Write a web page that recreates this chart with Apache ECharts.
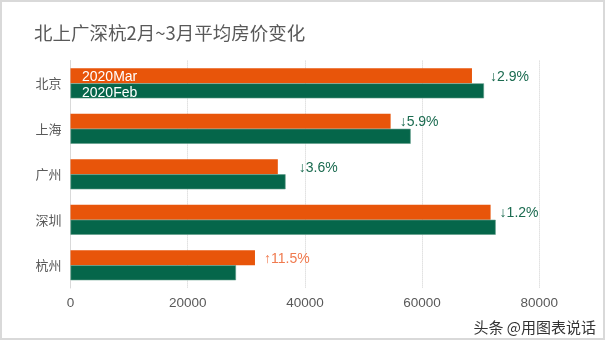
<!DOCTYPE html>
<html>
<head>
<meta charset="utf-8">
<script src="https://cdn.jsdelivr.net/npm/echarts@6/dist/echarts.min.js"></script>
<style>
  html, body { margin: 0; padding: 0; background: #fff; }
  #chart { width: 605px; height: 340px; }
</style>
</head>
<body>
<div id="chart"></div>
<script>
// Average housing price per city, Feb vs Mar 2020
const cities = ['北京', '上海', '广州', '深圳', '杭州'];
const priceMar = [68510, 54630, 35380, 71690, 31480];
const priceFeb = [70560, 58050, 36700, 72560, 28240];
const seriesNames = ['2020Mar', '2020Feb'];
const xTicks = { min: 0, max: 80000, interval: 20000 };

// extra horizontal spacing (px) for some change labels
const labelNudge = [9, 0, 12, 0, 0];

const FONT = '"Liberation Sans", "Noto Sans CJK SC", sans-serif';
const CJK = '"Noto Sans CJK SC", sans-serif';
const ORANGE = '#E8550A';
const GREEN = '#05664A';
const UP_COLOR = '#F07A4E';
const DOWN_COLOR = '#1B6B50';

// month-over-month change label, e.g. ↓2.9% / ↑11.5%
function changeLabel(i) {
  const pct = (priceMar[i] / priceFeb[i] - 1) * 100;
  const up = pct >= 0;
  return { text: (up ? '↑' : '↓') + Math.abs(pct).toFixed(1) + '%', up: up };
}

const marData = priceMar.map((v, i) => {
  const c = changeLabel(i);
  return {
    value: v,
    label: {
      show: true,
      position: 'right',
      distance: 9,
      formatter: c.text,
      color: c.up ? UP_COLOR : DOWN_COLOR,
      fontSize: 14,
      fontFamily: FONT,
      offset: [labelNudge[i], 1]
    }
  };
});

const chart = echarts.init(document.getElementById('chart'), null, { renderer: 'canvas' });
chart.setOption({
  animation: false,
  backgroundColor: '#fff',
  title: {
    text: '北上广深杭2月~3月平均房价变化',
    left: 29,
    top: 19,
    textStyle: { color: '#595959', fontSize: 18.5, fontWeight: 'normal', fontFamily: CJK }
  },
  legend: {
    data: seriesNames,
    orient: 'vertical',
    left: 72,
    top: 65,
    itemGap: 2,
    itemWidth: 0,
    itemHeight: 14,
    itemStyle: { opacity: 0, borderWidth: 0 },
    textStyle: { color: '#fff', fontSize: 14, fontFamily: FONT },
    selectedMode: false
  },
  grid: { left: 70.5, right: 65.7, top: 60.6, bottom: 52 },
  xAxis: {
    type: 'value',
    min: xTicks.min,
    max: xTicks.max,
    interval: xTicks.interval,
    axisLine: { show: false },
    axisTick: { show: false },
    axisLabel: { color: '#595959', fontSize: 13.5, fontFamily: FONT, margin: 9, formatter: v => String(v) },
    splitLine: { show: true, lineStyle: { color: '#D0D0D0', type: 'dotted', width: 1 } }
  },
  yAxis: {
    type: 'category',
    data: cities,
    inverse: true,
    axisLine: { show: true, lineStyle: { color: '#D9D9D9', width: 1 } },
    axisTick: { show: false },
    axisLabel: { color: '#595959', fontSize: 13, fontFamily: CJK, margin: 9 }
  },
  series: [
    {
      name: seriesNames[0],
      type: 'bar',
      data: marData,
      barWidth: 15,
      barGap: '0%',
      itemStyle: { color: ORANGE }
    },
    {
      name: seriesNames[1],
      type: 'bar',
      data: priceFeb,
      barWidth: 15,
      barGap: '0%',
      itemStyle: { color: GREEN, borderColor: '#5E9A86', borderWidth: 0.6 }
    }
  ],
  graphic: [
    {
      type: 'rect',
      shape: { x: 1, y: 1, width: 603, height: 338 },
      style: { fill: null, stroke: '#D9D9D9', lineWidth: 2 },
      silent: true
    },
    {
      type: 'text',
      right: 9,
      bottom: 5,
      style: { text: '头条 @用图表说话', fill: '#333', fontSize: 15, fontFamily: CJK },
      silent: true
    }
  ]
});
</script>
</body>
</html>
